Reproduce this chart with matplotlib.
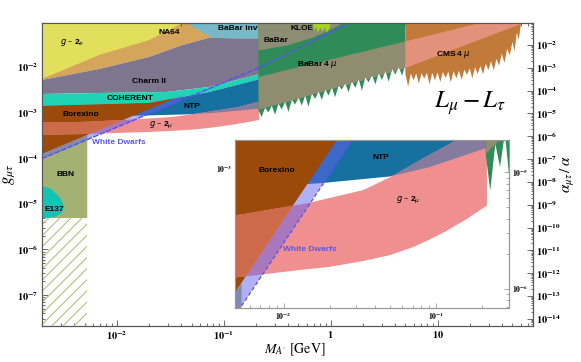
import numpy as np
import matplotlib
matplotlib.use("Agg")
import matplotlib.pyplot as plt
from matplotlib.patches import Polygon
from matplotlib.ticker import LogLocator, FuncFormatter, NullFormatter

plt.rcParams['mathtext.fontset'] = 'stix'
plt.rcParams['font.family'] = ['STIXGeneral', 'DejaVu Serif']
plt.rcParams['hatch.linewidth'] = 0.8

ALPHA_EM = 1 / 137.036

# ---------------- axis ranges ----------------
m_range = [2.0e-3, 78.0]          # GeV
g_range = [2.1e-8, 0.092]
inset_m_range = [4.8e-3, 0.30]
inset_g_range = [2.5e-4, 1.32e-3]

# ---------------- region boundaries (M in GeV, coupling g) ----------------
g2e_m = [2.0e-3, 6.86e-3, 2.01e-2, 3.10e-2, 4.10e-2]
g2e_g = [5.46e-3, 1.83e-2, 3.89e-2, 6.46e-2, 9.2e-2]

charm_top_m = [2.0e-3, 6.86e-3, 2.01e-2, 4.10e-2, 7.34e-2, 0.202, 0.25]
charm_top_g = [5.19e-3, 9.04e-3, 1.66e-2, 3.02e-2, 4.37e-2, 4.11e-2, 4.1e-2]

babar_inv_m = [0.0457, 0.0579, 0.0783, 0.202, 0.25, 0.25]
babar_inv_g = [0.092, 0.0646, 0.0437, 0.0411, 0.041, 0.092]

coh_top_m = [2.0e-3, 6.86e-3, 2.90e-2, 7.34e-2, 0.202, 0.25]
coh_top_g = [2.56e-3, 2.69e-3, 2.83e-3, 3.64e-3, 6.68e-3, 7.5e-3]
coh_bot_m = [2.0e-3, 2.01e-2, 7.34e-2, 0.202, 0.25]
coh_bot_g = [1.40e-3, 1.62e-3, 2.83e-3, 5.19e-3, 6.0e-3]

ntp_bot_m = [2.0e-3, 1.73e-2, 4.97e-2, 9.08e-2, 0.213, 0.25]
ntp_bot_g = [7.9e-4, 8.6e-4, 9.2e-4, 1.01e-3, 1.22e-3, 1.3e-3]

borexino_m = [2.0e-3, 2.01e-2, 3.53e-2, 2.0e-3]
borexino_g = [1.40e-3, 1.62e-3, 2.07e-3, 1.23e-4]

g2mu_lo_m = [2.0e-3, 4.95e-3, 7.38e-3, 1.22e-2, 2.01e-2, 3.32e-2, 4.97e-2, 7.05e-2, 9.08e-2, 0.117, 0.157, 0.215]
g2mu_lo_g = [3.24e-4, 3.39e-4, 3.49e-4, 3.63e-4, 3.76e-4, 3.98e-4, 4.22e-4, 4.57e-4, 4.93e-4, 5.37e-4, 6.01e-4, 6.9e-4]
g2mu_hi_m = [2.0e-3, 4.95e-3, 1.42e-2, 3.33e-2, 4.97e-2, 8.20e-2, 0.136, 0.215]
g2mu_hi_g = [6.03e-4, 6.27e-4, 7.05e-4, 8.04e-4, 9.12e-4, 1.10e-3, 1.32e-3, 1.74e-3]

heavy_band_lo_m = [0.211, 4.42, 62.7]
heavy_band_lo_g = [1.15e-3, 8.5e-3, 9.1e-2]
heavy_band_hi_m = [0.211, 4.42, 24.8]
heavy_band_hi_g = [6.03e-3, 3.39e-2, 9.2e-2]

wd_line_m = [2.0e-3, 0.211, 1.50]
wd_line_g = [9.8e-5, 9.5e-3, 9.2e-2]
wd_band_m = [2.0e-3, 0.04]
wd_band_lo_g = [9.8e-5, 1.86e-3]
wd_band_hi_g = [1.23e-4, 2.34e-3]

bbn_m = [2.0e-3, 5.3e-3, 5.3e-3, 2.0e-3]
bbn_g = [4.9e-6, 4.9e-6, 3.2e-4, 1.23e-4]

hatch_m = [2.0e-3, 5.3e-3]
hatch_g = [2.1e-8, 4.9e-6]

e137_m = [2.0e-3, 2.39e-3, 2.61e-3, 2.94e-3, 3.22e-3, 3.08e-3, 2.68e-3, 2.28e-3, 2.0e-3]
e137_g = [2.45e-5, 2.19e-5, 1.82e-5, 1.38e-5, 8.9e-6, 6.3e-6, 5.25e-6, 4.9e-6, 4.9e-6]

babar4mu_edge_m = [0.211, 0.226, 0.244, 0.262, 0.282, 0.302, 0.325, 0.349, 0.376, 0.403,
                   0.434, 0.465, 0.501, 0.537, 0.579, 0.620, 0.668, 0.716, 0.772, 0.827,
                   0.891, 0.955, 1.03, 1.10, 1.19, 1.27, 1.37, 1.47, 1.58, 1.70,
                   1.83, 1.96, 2.11, 2.26, 2.44, 2.62, 2.82, 3.02, 3.25, 3.49,
                   3.76, 4.03, 4.34, 4.65, 5.0]
babar4mu_edge_g = [1.15e-3, 7.98e-4, 1.27e-3, 1.01e-3, 1.41e-3, 8.95e-4, 1.57e-3, 1.17e-3, 1.74e-3, 1.03e-3,
                   1.93e-3, 1.50e-3, 2.14e-3, 1.42e-3, 2.37e-3, 1.34e-3, 2.63e-3, 2.00e-3, 2.92e-3, 1.89e-3,
                   3.24e-3, 2.36e-3, 3.59e-3, 2.17e-3, 3.98e-3, 3.18e-3, 4.42e-3, 2.80e-3, 4.90e-3, 3.48e-3,
                   5.43e-3, 3.00e-3, 6.03e-3, 4.59e-3, 6.68e-3, 4.14e-3, 7.41e-3, 5.15e-3, 8.22e-3, 4.75e-3,
                   9.12e-3, 6.79e-3, 1.01e-2, 6.41e-3, 1.12e-2]

babar_m = [0.211, 0.211, 0.40, 0.70, 1.0, 1.3]
babar_g = [0.092, 2.3e-2, 3.0e-2, 4.5e-2, 6.5e-2, 0.092]

kloe_m = [0.68, 0.70, 0.73, 0.76, 0.80, 0.84, 0.88, 0.92, 0.97, 1.0]
kloe_g = [0.092, 0.062, 0.075, 0.058, 0.072, 0.060, 0.074, 0.057, 0.070, 0.092]

cms_edge_m = [5.00, 5.30, 5.62, 5.96, 6.31, 6.68, 7.08, 7.50, 7.94, 8.41,
              8.91, 9.44, 10.0, 10.6, 11.2, 11.9, 12.6, 13.3, 14.1, 15.0,
              15.8, 16.8, 17.8, 18.8, 20.0, 21.1, 22.4, 23.7, 25.1, 26.6,
              28.2, 29.9, 31.6, 33.5, 35.5, 37.6, 39.8, 42.2, 44.7, 47.3,
              50.1, 52.5, 55.0, 57.5, 60.3]
cms_edge_g = [7.08e-3, 3.72e-3, 7.16e-3, 5.08e-3, 7.24e-3, 4.37e-3, 7.33e-3, 5.56e-3, 7.41e-3, 4.17e-3,
              7.50e-3, 5.07e-3, 7.59e-3, 4.68e-3, 7.76e-3, 5.75e-3, 7.94e-3, 4.57e-3, 8.13e-3, 5.62e-3,
              8.32e-3, 5.25e-3, 8.81e-3, 6.68e-3, 9.33e-3, 5.62e-3, 9.89e-3, 7.0e-3, 1.05e-2, 6.92e-3,
              1.18e-2, 8.57e-3, 1.34e-2, 8.45e-3, 1.51e-2, 1.07e-2, 1.95e-2, 1.23e-2, 2.51e-2, 1.78e-2,
              3.55e-2, 2.24e-2, 5.62e-2, 3.98e-2, 9.2e-2]

# ---------------- colours ----------------
C = dict(na64='#d4a55a', binv='#77b9c8', g2e='#e1df5c', charm='#7e758f', coh='#20d3b4',
         ntp='#1671a0', bbn='#a3b272', hatch='#b6bf80', borex='#9b4a0a', g2mu='#ef8f8f',
         g2mu_borex='#cd6a4a', g2mu_ntp='#857b9e', e137='#14c3b3', b4mu='#2f8c58',
         babar='#8c8e74', band_green='#8f8c70', kloe='#a5d41e', cms='#c27a3a',
         band_cms='#e3917a', wd='#6262ee', wdline='#5a4ff0')


def pts(ms, gs):
    return list(zip(ms, gs))


def band(lo_m, lo_g, hi_m, hi_g):
    return pts(lo_m, lo_g) + pts(hi_m, hi_g)[::-1]


def draw_regions(ax, inset=False):
    gtop = g_range[1]
    T = ax.transData

    def add(verts, color, z, alpha=1.0, clip=None, **kw):
        p = Polygon(verts, closed=True, facecolor=color, edgecolor='none',
                    alpha=alpha, zorder=z, **kw)
        ax.add_patch(p)
        if clip is not None:
            p.set_clip_path(Polygon(clip, closed=True, transform=T))
        return p

    charm_top = pts(charm_top_m, charm_top_g)
    na64 = charm_top + [(charm_top_m[-1], gtop), (charm_top_m[0], gtop)]
    add(na64, C['na64'], 1)
    add(pts(babar_inv_m, babar_inv_g), C['binv'], 2)
    add(pts(g2e_m, g2e_g) + [(g2e_m[0], gtop)], C['g2e'], 3)
    add(band(charm_top_m, charm_top_g, coh_top_m, coh_top_g), C['charm'], 4)
    add(band(coh_top_m, coh_top_g, coh_bot_m, coh_bot_g), C['coh'], 5)
    ntp = band(coh_bot_m, coh_bot_g, ntp_bot_m, ntp_bot_g)
    add(ntp, C['ntp'], 6)
    add(pts(bbn_m, bbn_g), C['bbn'], 7)
    hp = Polygon([(hatch_m[0], hatch_g[0]), (hatch_m[1], hatch_g[0]),
                  (hatch_m[1], hatch_g[1]), (hatch_m[0], hatch_g[1])],
                 closed=True, facecolor='none', edgecolor=C['hatch'], lw=0,
                 hatch='///', zorder=7)
    ax.add_patch(hp)
    borex = pts(borexino_m, borexino_g)
    add(borex, C['borex'], 8)
    g2mu = band(g2mu_lo_m, g2mu_lo_g, g2mu_hi_m, g2mu_hi_g)
    add(g2mu, C['g2mu'], 9)
    add(g2mu, C['g2mu_ntp'], 10, clip=ntp)
    add(g2mu, C['g2mu_borex'], 10.5, clip=borex)
    add(pts(e137_m, e137_g), C['e137'], 11)
    green = pts(babar4mu_edge_m, babar4mu_edge_g) + [(babar4mu_edge_m[-1], gtop), (babar4mu_edge_m[0], gtop)]
    add(green, C['b4mu'], 12)
    add(pts(babar_m, babar_g), C['babar'], 13)
    heavy = band(heavy_band_lo_m, heavy_band_lo_g, heavy_band_hi_m, heavy_band_hi_g)
    add(heavy, C['band_green'], 13.5, clip=green)
    add(pts(kloe_m, kloe_g), C['kloe'], 14)
    cms = pts(cms_edge_m, cms_edge_g) + [(cms_edge_m[-1], gtop), (cms_edge_m[0], gtop)]
    add(cms, C['cms'], 15)
    add(heavy, C['band_cms'], 16, clip=cms)
    add(band(wd_band_m, wd_band_lo_g, wd_band_m, wd_band_hi_g), C['wd'], 17, alpha=0.5)
    ax.plot(wd_line_m, wd_line_g, color=C['wdline'], lw=0.9 if inset else 1.0,
            dashes=(3, 2) if inset else (4, 1), zorder=18)


def dec_label(v, pos):
    if v <= 0:
        return ''
    lv = np.log10(v)
    e = int(np.round(lv))
    if abs(lv - e) > 1e-6:
        return ''
    if e == 0:
        return r'$\mathbf{1}$'
    if e == 1:
        return r'$\mathbf{10}$'
    return r'$\mathbf{10^{%d}}$' % e


def style_log_axis(axis, majors, numticks=400):
    axis.set_major_locator(matplotlib.ticker.FixedLocator(majors))
    axis.set_minor_locator(LogLocator(base=10, subs=np.arange(2, 10), numticks=numticks))
    axis.set_major_formatter(FuncFormatter(dec_label))
    axis.set_minor_formatter(NullFormatter())


fig = plt.figure(figsize=(5.81, 3.62), dpi=100)
W, H = 581.0, 362.0
ax = fig.add_axes([42 / W, 36 / H, 491 / W, 303 / H])
ax.set_xscale('log')
ax.set_yscale('log')
draw_regions(ax)
ax.set_xlim(m_range)
ax.set_ylim(g_range)
style_log_axis(ax.xaxis, [1e-2, 1e-1, 1, 10])
style_log_axis(ax.yaxis, [1e-7, 1e-6, 1e-5, 1e-4, 1e-3, 1e-2])
ax.tick_params(which='both', direction='in', top=True, right=False, colors='#555555',
               labelcolor='black', labelsize=7.5, width=0.6, pad=2.5)
ax.tick_params(which='major', length=4)
ax.tick_params(which='minor', length=2)
for s in ax.spines.values():
    s.set_color('#555555')
    s.set_linewidth(0.8)

ax2 = ax.twinx()
ax2.set_yscale('log')
ax2.set_ylim(g_range[0] ** 2 / (4 * np.pi * ALPHA_EM), g_range[1] ** 2 / (4 * np.pi * ALPHA_EM))
style_log_axis(ax2.yaxis, [10.0 ** e for e in range(-14, -1)])
ax2.tick_params(which='both', direction='in', colors='#555555', labelcolor='black',
                labelsize=7.5, width=0.6, pad=2.5)
ax2.tick_params(which='major', length=4)
ax2.tick_params(which='minor', length=1.5)
for s in ax2.spines.values():
    s.set_color('#555555')
    s.set_linewidth(0.8)

ax.set_xlabel(r'$M_{A^{\prime}}$ [GeV]', fontsize=10)
ax.xaxis.set_label_coords(0.515, -0.05)
ax.set_ylabel(r'$g_{\mu\tau}$', fontsize=12)
ax.yaxis.set_label_coords(-0.05, 0.5)
ax2.set_ylabel(r'$\alpha_{\mu\tau}\,/\,\alpha$', fontsize=11)
ax2.yaxis.set_label_coords(1.053, 0.5)

# region labels (main)
lab = dict(fontfamily='Liberation Sans', fontweight='bold', fontsize=6, ha='center',
           va='center', math_fontfamily='dejavusans', zorder=30)
ax.text(3.83e-3, 0.0336, r'$g$ – 2$_{e}$', **lab)
ax.text(0.031, 0.0557, 'NA64', **lab)
ax.text(0.134, 0.068, 'BaBar inv', **lab)
ax.text(0.535, 0.068, 'KLOE', **lab)
ax.text(0.311, 0.0389, 'BaBar', **lab)
ax.text(0.753, 0.0111, r'BaBar 4 $\mu$', **lab)
ax.text(14.2, 0.0183, r'CMS 4 $\mu$', **lab)
ax.text(0.0201, 4.69e-3, 'Charm II', **lab)
ax.text(0.0134, 2.0e-3, 'COHERENT', **lab)
ax.text(0.0499, 1.33e-3, 'NTP', **lab)
ax.text(4.66e-3, 9.3e-4, 'Borexino', **lab)
ax.text(0.0261, 5.35e-4, r'$g$ – 2$_{\mu}$', **lab)
ax.text(0.01055, 2.16e-4, 'White Dwarfs', color='#5b57f0', **lab)
ax.text(3.3e-3, 4.5e-5, 'BBN', **lab)
ax.text(2.6e-3, 7.7e-6, 'E137', **lab)
ax.text(20.0, 1.62e-3, r'$L_\mu - L_\tau$', fontsize=18, ha='center', va='center', zorder=30)

# ---------------- inset ----------------
axin = fig.add_axes([235 / W, (H - 308) / H, 274 / W, 168 / H])
axin.set_xscale('log')
axin.set_yscale('log')
draw_regions(axin, inset=True)
axin.set_xlim(inset_m_range)
axin.set_ylim(inset_g_range)
style_log_axis(axin.xaxis, [1e-2, 1e-1])
style_log_axis(axin.yaxis, [1e-3])
axin.tick_params(which='both', direction='in', top=True, right=False, colors='#888888',
                 labelcolor='black', labelsize=5.5, width=0.5, pad=2)
axin.tick_params(which='major', length=3.5)
axin.tick_params(which='minor', length=2)
for s in axin.spines.values():
    s.set_color('#999999')
    s.set_linewidth(0.8)
axin2 = axin.twinx()
axin2.set_yscale('log')
axin2.set_ylim(inset_g_range[0] ** 2 / (4 * np.pi * ALPHA_EM), inset_g_range[1] ** 2 / (4 * np.pi * ALPHA_EM))
style_log_axis(axin2.yaxis, [1e-6, 1e-5])
axin2.tick_params(which='both', direction='in', colors='#888888', labelcolor='black',
                  labelsize=5.5, width=0.5, pad=2)
axin2.tick_params(which='major', length=3.5)
axin2.tick_params(which='minor', length=2)
for s in axin2.spines.values():
    s.set_color('#999999')
    s.set_linewidth(0.8)

axin.text(9.07e-3, 9.8e-4, 'Borexino', **lab)
axin.text(0.0434, 1.11e-3, 'NTP', **lab)
axin.text(0.066, 7.28e-4, r'$g$ – 2$_{\mu}$', **lab)
axin.text(0.0149, 4.48e-4, 'White Dwarfs', color='#5b57f0', **lab)

fig.savefig('out.png', dpi=100)
